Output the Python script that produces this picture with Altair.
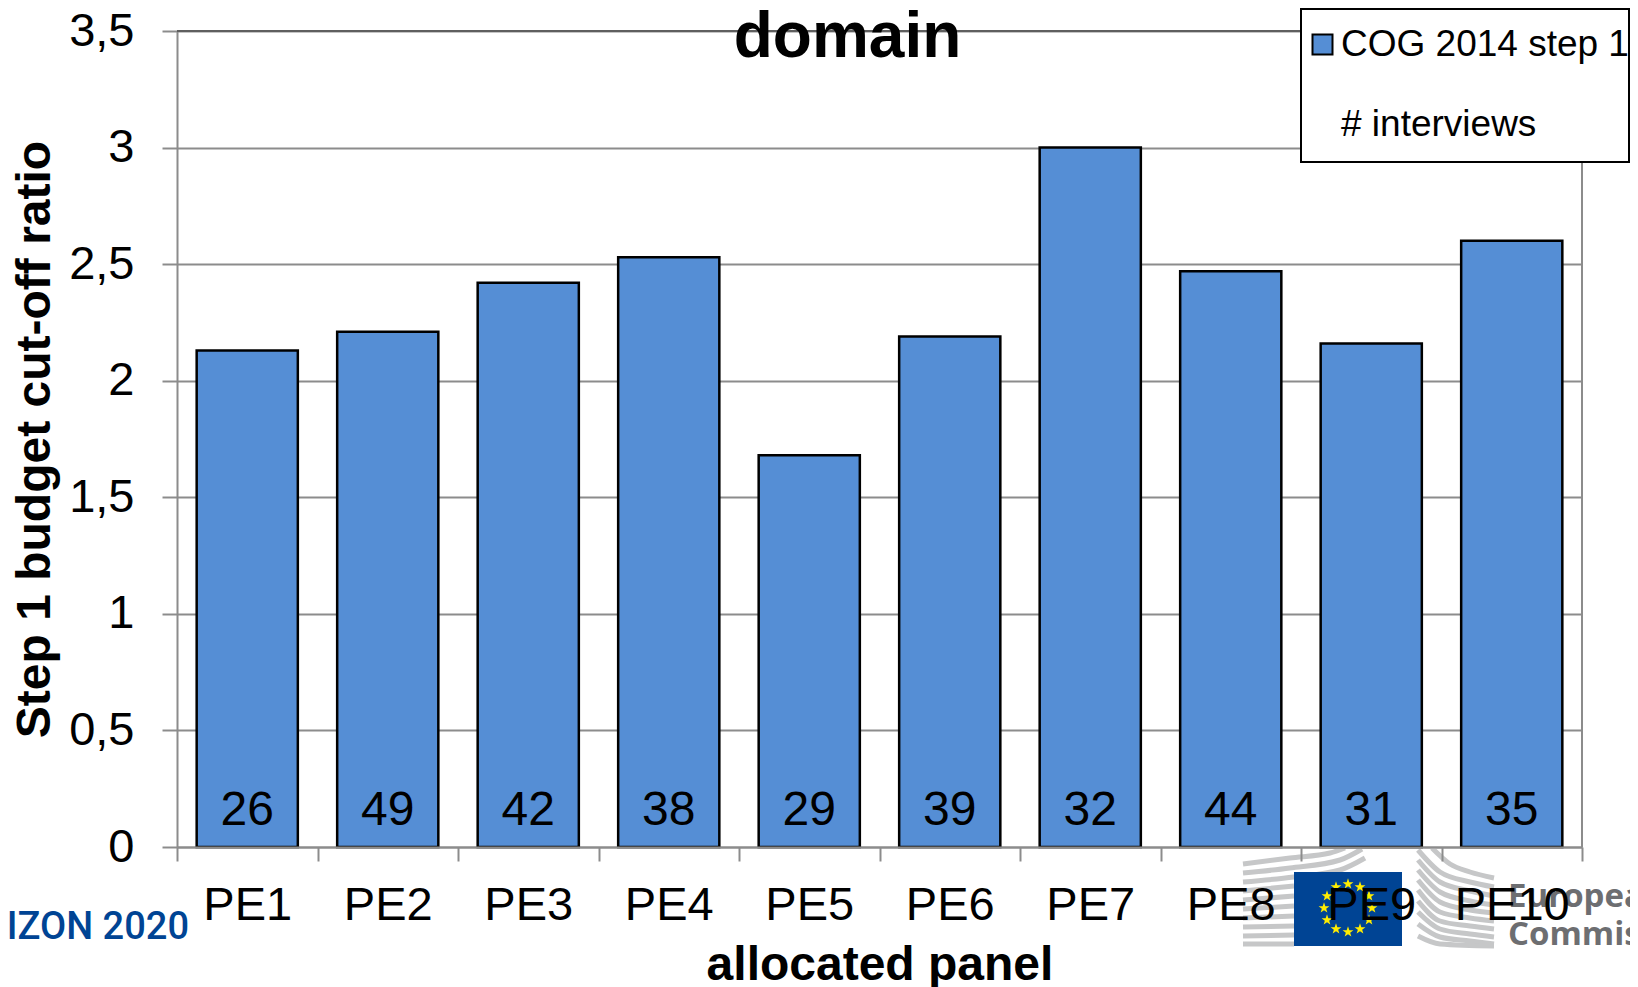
import altair as alt
import pandas as pd

panels = ["PE1", "PE2", "PE3", "PE4", "PE5", "PE6", "PE7", "PE8", "PE9", "PE10"]
ratios = [2.13, 2.21, 2.42, 2.53, 1.68, 2.19, 3.0, 2.47, 2.16, 2.6]
interviews = [26, 49, 42, 38, 29, 39, 32, 44, 31, 35]
series = ["COG 2014 step 1", "# interviews"]

BLUE = "#558ed5"
GREY = "#8c8c8c"
FONT = "Liberation Sans"

df = pd.DataFrame({"panel": panels, "ratio": ratios, "interviews": interviews})
legend_df = pd.DataFrame({"series": series})

# ---- logo decoration, in page pixels
wave_left = {
    "l1": [(1243, 864), (1290, 858), (1330, 853), (1345, 848)],
    "l2": [(1243, 873), (1290, 868), (1340, 860), (1362, 849)],
    "l3": [(1243, 882), (1294, 877), (1340, 870), (1365, 858)],
    "l4": [(1243, 891), (1294, 886)],
    "l5": [(1243, 900), (1294, 896)],
    "l6": [(1243, 909), (1294, 906)],
    "l7": [(1243, 918), (1294, 916)],
    "l8": [(1243, 927), (1294, 926)],
    "l9": [(1243, 936), (1294, 935)],
    "l10": [(1243, 944), (1294, 944)],
    "r0": [(1432, 848), (1450, 864), (1470, 872), (1494, 878)],
    "r1": [(1418, 850), (1440, 872), (1470, 882), (1494, 887)],
    "r2": [(1418, 860), (1440, 882), (1470, 891), (1494, 896)],
    "r3": [(1418, 870), (1440, 892), (1470, 901), (1494, 905)],
    "r4": [(1418, 880), (1440, 902), (1470, 910), (1494, 913)],
    "r5": [(1418, 890), (1440, 912), (1470, 918), (1494, 921)],
    "r6": [(1418, 901), (1440, 921), (1470, 926), (1494, 929)],
    "r7": [(1418, 912), (1440, 929), (1470, 934), (1494, 937)],
    "r8": [(1418, 924), (1440, 937), (1470, 941), (1494, 944)],
    "r9": [(1418, 936), (1440, 944), (1494, 946)],
}
wave_rows = []
for name, pts in wave_left.items():
    for i, (px_, py_) in enumerate(pts):
        wave_rows.append({"name": name, "i": i, "px": px_, "py": py_})
waves = pd.DataFrame(wave_rows)

flag = pd.DataFrame([{"x0": 1294, "x1": 1402, "y0": 872, "y1": 946}])
stars = pd.DataFrame({
    "px": [1348, 1360, 1369, 1372, 1369, 1360, 1348, 1336, 1327, 1324, 1327, 1336],
    "py": [884, 887, 896, 908, 920, 929, 932, 929, 920, 908, 896, 887],
})
logo_text = pd.DataFrame([{"t": "HORIZON 2020", "px": 189, "py": 939}])
ec_text = pd.DataFrame([
    {"t": "European", "px": 1508, "py": 907},
    {"t": "Commission", "px": 1508, "py": 945},
])

X_PX = alt.Scale(domain=[177, 1582], range=[0, 1405])
Y_PX = alt.Scale(domain=[31, 847], range=[0, 816])
px = alt.X("px:Q", scale=X_PX, axis=None)
py = alt.Y("py:Q", scale=Y_PX, axis=None)

wave_layer = alt.Chart(waves).mark_line(color="#c6c7c8", strokeWidth=5, interpolate="monotone").encode(
    x=px, y=py, detail="name:N", order="i:Q")
flag_layer = alt.Chart(flag).mark_rect(color="#004494").encode(
    x=alt.X("x0:Q", scale=X_PX, axis=None), x2="x1:Q",
    y=alt.Y("y0:Q", scale=Y_PX, axis=None), y2="y1:Q")
STAR = "M0,-1L0.235,-0.324L0.951,-0.309L0.38,0.124L0.588,0.809L0,0.4L-0.588,0.809L-0.38,0.124L-0.951,-0.309L-0.235,-0.324Z"
star_layer = alt.Chart(stars).mark_point(shape=STAR, filled=True, color="#ffed00", size=130, opacity=1).encode(x=px, y=py)
horizon_layer = alt.Chart(logo_text).mark_text(align="right", baseline="alphabetic", font="Roboto",
                                               fontWeight=500, fontSize=38, color="#004494").encode(
    x=px, y=py, text="t:N")
ec_layer = alt.Chart(ec_text).mark_text(align="left", baseline="alphabetic", font="Open Sans",
                                        fontWeight=700, fontSize=33, color="#6d6e71").encode(
    x=px, y=py, text="t:N")
logos = alt.layer(wave_layer, flag_layer, star_layer, horizon_layer, ec_layer)

# ---- chart proper
x_enc = alt.X("panel:N", sort=panels, scale=alt.Scale(padding=0),
              axis=alt.Axis(title="allocated panel", titleFont=FONT, titleFontSize=48, titleFontWeight="bold",
                            titleColor="black", titlePadding=13, labelFont=FONT, labelFontSize=47,
                            labelColor="black", labelAngle=0, labelPadding=21, tickBand="extent",
                            tickSize=14, tickWidth=2, tickColor=GREY, domainColor=GREY, domainWidth=2,
                            grid=False, zindex=1))
y_enc = alt.Y("ratio:Q", scale=alt.Scale(domain=[0, 3.5], nice=False),
              axis=alt.Axis(title="Step 1 budget cut-off ratio", titleFont=FONT, titleFontSize=48,
                            titleFontWeight="bold", titleColor="black", titlePadding=9,
                            labelFont=FONT, labelFontSize=47, labelColor="black", labelPadding=28,
                            values=[0, 0.5, 1, 1.5, 2, 2.5, 3, 3.5],
                            labelExpr="replace(format(datum.value, '.1~f'), '.', ',')",
                            tickSize=15, tickWidth=2, tickColor=GREY, domainColor=GREY, domainWidth=2,
                            grid=True, gridColor=GREY, gridWidth=2))

legend = alt.Legend(title=None, orient="none", legendX=1116, legendY=-16,
                    symbolSize=400, symbolStrokeWidth=2,
                    symbolOpacity=1, labelFont=FONT, labelFontSize=37, labelColor="black", labelOffset=0,
                    rowPadding=42, padding=11, labelLimit=400)

bars = alt.Chart(df).mark_bar(color=BLUE, stroke="black", strokeWidth=2.5,
                              width=alt.RelativeBandSize(band=0.72)).encode(x=x_enc, y=y_enc)
top_rule = alt.Chart(pd.DataFrame({"v": [3.5]})).mark_rule(color="#5f5f5f", strokeWidth=2).encode(y=alt.Y("v:Q"))
right_line = alt.Chart(pd.DataFrame({"v": [0]})).mark_rule(color=GREY, strokeWidth=2).encode(
    x=alt.value(1405), y=alt.value(0), y2=alt.value(816))
labels = alt.Chart(df).mark_text(font=FONT, fontSize=48, color="black", baseline="alphabetic", dy=-22).encode(
    x=alt.X("panel:N", sort=panels), y=alt.datum(0), text="interviews:Q")
legend_box = alt.Chart(pd.DataFrame({"v": [0]})).mark_rect(fill="white", stroke="black", strokeWidth=2).encode(
    x=alt.value(1124), x2=alt.value(1452), y=alt.value(-22), y2=alt.value(131))
legend_layer = alt.Chart(legend_df).mark_point(filled=True, size=0, stroke="black", strokeWidth=2).encode(
    shape=alt.Shape("series:N", scale=alt.Scale(domain=series, range=["square", "M0,0Z"]), legend=legend),
    color=alt.Color("series:N", scale=alt.Scale(domain=series, range=[BLUE, "transparent"]), legend=legend),
)
title_text = alt.Chart(pd.DataFrame({"t": ["domain"]})).mark_text(
    font=FONT, fontSize=64, fontWeight="bold", color="black", align="center", baseline="alphabetic").encode(
    x=alt.value(670.5), y=alt.value(26), text="t:N")
main = alt.layer(bars, top_rule, right_line, labels, legend_box, legend_layer, title_text)

chart = alt.layer(logos, main).resolve_scale(x="independent", y="independent").properties(
    width=1405, height=816,
    padding={"left": 169, "top": 23, "right": 48, "bottom": 140},
    autosize=alt.AutoSizeParams(type="none"),
).configure_view(stroke=GREY, strokeWidth=2).configure(background="white")

chart.save("out.html", embed_options={"renderer": "svg", "actions": False})
